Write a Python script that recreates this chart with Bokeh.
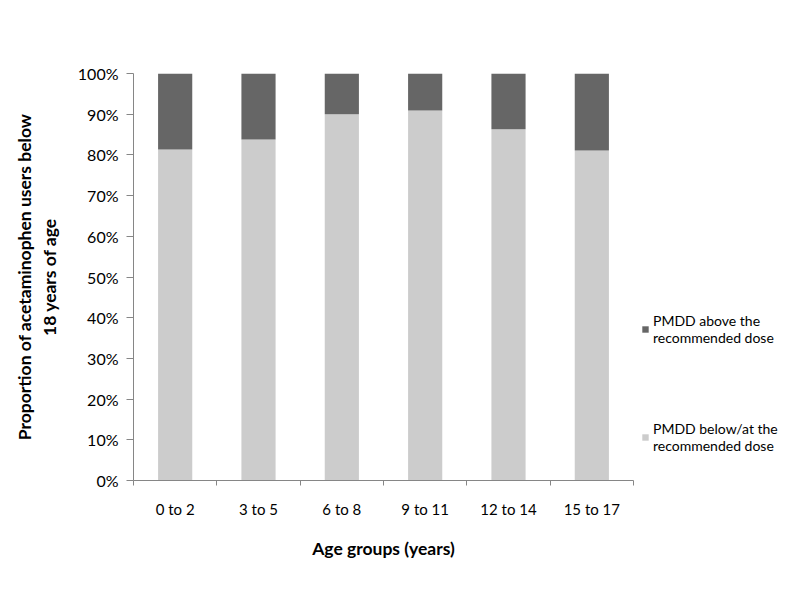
from bokeh.plotting import figure
from bokeh.models import ColumnDataSource, FixedTicker, Legend, LegendItem, Range1d
from bokeh.embed import file_html
from bokeh.resources import INLINE

categories = ["0 to 2", "3 to 5", "6 to 8", "9 to 11", "12 to 14", "15 to 17"]
below = [81.3, 83.8, 90.0, 90.9, 86.3, 81.1]
above = [100 - b for b in below]
y_ticks = [0, 10, 20, 30, 40, 50, 60, 70, 80, 90, 100]

xs = [i + 0.5 for i in range(len(categories))]
src = ColumnDataSource(dict(x=xs, below=below, top=[100] * len(categories), above=above))

p = figure(frame_width=500, frame_height=407, output_backend="svg", toolbar_location=None,
           x_range=Range1d(0, len(categories)), y_range=Range1d(0, 100),
           min_border_left=133, min_border_right=0, min_border_top=73, min_border_bottom=104)
p.outline_line_color = None
p.xgrid.grid_line_color = None
p.ygrid.grid_line_color = None

r_below = p.vbar(x="x", width=0.41, bottom=0, top="below", source=src, fill_color="#cccccc", line_color=None)
r_above = p.vbar(x="x", width=0.41, bottom="below", top="top", source=src, fill_color="#666666", line_color=None)

font = "Lato"
p.xaxis.ticker = FixedTicker(ticks=xs, minor_ticks=list(range(len(categories) + 1)))
p.xaxis.major_label_overrides = {x: c for x, c in zip(xs, categories)}
p.xaxis.major_tick_out = 0
p.xaxis.major_tick_in = 0
p.xaxis.minor_tick_out = 5
p.xaxis.minor_tick_in = 0
p.yaxis.ticker = FixedTicker(ticks=y_ticks)
p.yaxis.major_label_overrides = {t: f"{t}%" for t in y_ticks}
p.yaxis.major_tick_out = 7
p.yaxis.major_tick_in = 0
p.yaxis.minor_tick_out = 0
p.yaxis.minor_tick_in = 0
for ax in (p.xaxis, p.yaxis):
    ax.axis_line_color = "#868686"
    ax.major_tick_line_color = "#868686"
    ax.minor_tick_line_color = "#868686"
    ax.major_label_text_font = font
    ax.major_label_text_font_size = "15px"
    ax.major_label_text_color = "#000000"
    ax.axis_label_text_font = font
    ax.axis_label_text_font_size = "17.5px"
    ax.axis_label_text_font_style = "bold"
    ax.axis_label_text_color = "#000000"
p.yaxis.major_label_text_font_size = "16px"
p.xaxis.major_label_standoff = 14
p.yaxis.major_label_standoff = 8
p.xaxis.axis_label = "Age groups (years)"
p.xaxis.axis_label_standoff = 17
p.yaxis.axis_label = "Proportion of acetaminophen users below\n18 years of age"
p.yaxis.axis_label_standoff = 15

legend = Legend(items=[LegendItem(label="PMDD above the\nrecommended dose", renderers=[r_above]),
                       LegendItem(label="PMDD below/at the\nrecommended dose", renderers=[r_below])],
                location=(8, 26), orientation="vertical")
legend.border_line_color = None
legend.background_fill_alpha = 0
legend.label_text_font = font
legend.label_text_font_size = "14px"
legend.label_text_color = "#000000"
legend.glyph_width = 8
legend.glyph_height = 8
legend.label_standoff = 4
legend.spacing = 74
legend.padding = 0
legend.margin = 0
p.add_layout(legend, "right")

open("out.html", "w").write(file_html(p, INLINE))
